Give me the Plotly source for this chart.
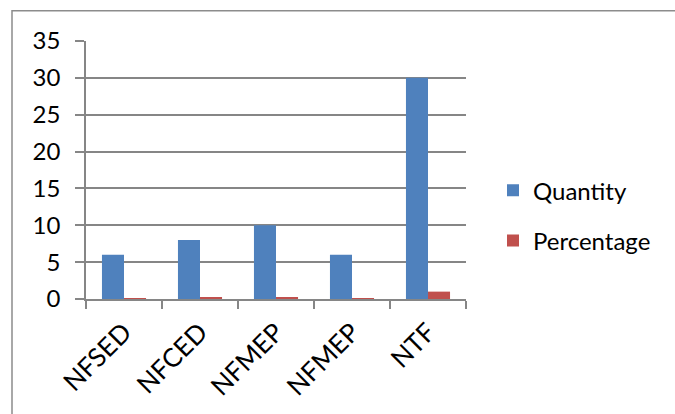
import plotly.graph_objects as go

categories = ["NFSED", "NFCED", "NFMEP", "NFMEP\u200b", "NTF"]
quantity = [6, 8, 10, 6, 30]
percentage = [0.1, 0.2, 0.25, 0.1, 1.0]
y_ticks = [0, 5, 10, 15, 20, 25, 30, 35]

W, H = 675, 414
L, R, T, B = 86, 466, 41, 301

def px(x):
    return (x - L) / (R - L)

def py(y):
    return (B - y) / (B - T)

font_family = "Lato, 'Open Sans', sans-serif"

fig = go.Figure()
fig.add_trace(go.Bar(x=categories, y=quantity, name="Quantity",
                     marker=dict(color="#4F81BD", line=dict(width=0)),
                     legendgroup="a"))
fig.add_trace(go.Bar(x=categories, y=percentage, name="Percentage",
                     marker=dict(color="#C0504D", line=dict(width=0)),
                     legendgroup="b"))

fig.update_layout(
    width=W, height=H,
    margin=dict(l=L, r=W - R, t=T, b=H - B, pad=0),
    paper_bgcolor="white", plot_bgcolor="white",
    barmode="group", bargap=0.42, bargroupgap=0,
    font=dict(family=font_family, size=24, color="black"),
    showlegend=True,
    legend=dict(x=px(493), y=py(217), xanchor="left", yanchor="middle",
                font=dict(size=24), tracegroupgap=16,
                itemwidth=30, bgcolor="rgba(0,0,0,0)"),
    xaxis=dict(type="category", tickangle=-45, tickson="boundaries",
               ticks="outside", ticklen=8, tickcolor="#868686", tickwidth=1.5,
               showline=True, linecolor="#868686", linewidth=1.5,
               showgrid=False, zeroline=False, fixedrange=True,
               tickfont=dict(size=26), ticklabelstandoff=6),
    yaxis=dict(range=[0, 35], tickvals=y_ticks, ticks="outside", ticklen=9,
               tickcolor="#868686", tickwidth=1.5,
               showline=True, linecolor="#868686", linewidth=1.5,
               showgrid=True, gridcolor="#868686", gridwidth=1.5,
               zeroline=False, ticklabelstandoff=10, fixedrange=True),
    shapes=[dict(type="rect", xref="paper", yref="paper",
                 x0=px(12), x1=px(690), y0=py(430), y1=py(10.5),
                 line=dict(color="#8c8c8c", width=1.5), fillcolor="rgba(0,0,0,0)",
                 layer="below")],
)

fig.write_html("out.html", config={"displayModeBar": False},
               post_script="document.body.style.margin='0';")
